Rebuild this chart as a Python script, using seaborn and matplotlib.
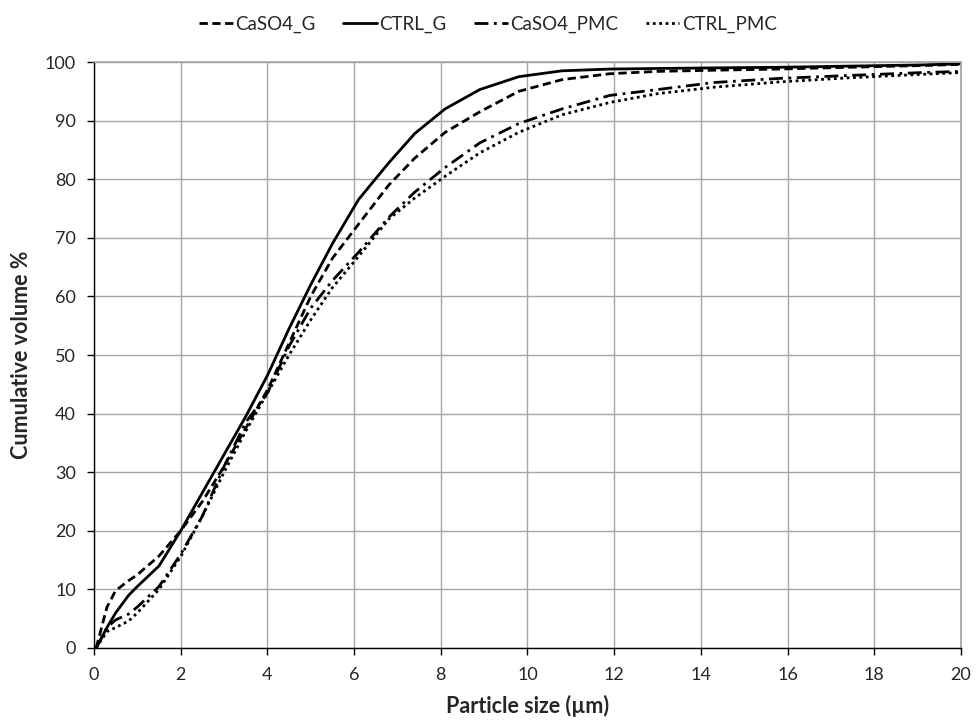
import numpy as np
import pandas as pd
import matplotlib
matplotlib.use("Agg")
import matplotlib.pyplot as plt
import seaborn as sns

size = [0.05, 0.3, 0.5, 0.8, 1.0, 1.5, 2.0, 2.5, 3.0, 3.5, 4.0, 4.5, 5.0, 5.5,
        6.1, 6.8, 7.4, 8.1, 8.9, 9.8, 10.8, 11.9, 13.0, 14.3, 15.8, 17.4, 19.1, 20.0]

caso4_g = [0.0, 7.0, 9.8, 11.5, 12.5, 15.7, 20.0, 25.0, 31.0, 37.5, 44.0, 52.0, 60.0, 66.5,
           72.3, 79.0, 83.6, 88.0, 91.5, 95.0, 97.0, 98.0, 98.4, 98.6, 98.8, 99.1, 99.4, 99.6]
ctrl_g = [0.0, 3.5, 6.0, 9.0, 10.5, 14.0, 20.0, 26.5, 33.0, 39.5, 46.5, 54.5, 62.0, 69.0,
          76.5, 82.8, 87.8, 92.0, 95.3, 97.5, 98.5, 98.8, 98.9, 99.0, 99.1, 99.3, 99.5, 99.7]
caso4_pmc = [0.0, 3.5, 4.8, 5.8, 7.0, 10.5, 16.0, 22.5, 31.0, 38.5, 43.5, 51.5, 58.0, 62.7,
             67.5, 73.5, 77.8, 82.0, 86.2, 89.5, 92.0, 94.3, 95.3, 96.5, 97.2, 97.7, 98.2, 98.4]
ctrl_pmc = [0.0, 2.8, 3.5, 4.6, 6.0, 10.0, 15.6, 22.5, 30.0, 37.0, 43.5, 50.0, 56.0, 61.5,
            66.8, 73.2, 76.8, 80.5, 84.5, 88.0, 91.0, 93.1, 94.6, 95.7, 96.6, 97.3, 97.9, 98.2]

series = ["CaSO4_G", "CTRL_G", "CaSO4_PMC", "CTRL_PMC"]
values = [caso4_g, ctrl_g, caso4_pmc, ctrl_pmc]

df = pd.concat([pd.DataFrame({"size": size, "vol": v, "series": s})
                for s, v in zip(series, values)], ignore_index=True)

sns.set_theme(style="white")
plt.rcParams['font.family'] = ['Lato', 'DejaVu Sans']

fig = plt.figure(figsize=(9.76, 7.22), dpi=100)
ax = fig.add_axes([0.0963, 0.1025, 0.8883, 0.8116])

dashes = {"CaSO4_G": (3, 1.6), "CTRL_G": "", "CaSO4_PMC": (5, 2, 1, 2), "CTRL_PMC": (1, 1.3)}
sns.lineplot(data=df, x="size", y="vol", hue="series", style="series",
             hue_order=series, style_order=series, dashes=dashes,
             palette=["black"] * 4, linewidth=2.0, ax=ax, legend=True)

ax.set_xlim(0, 20)
ax.set_ylim(0, 100)
ax.set_xticks(np.arange(0, 21, 2))
ax.set_yticks(np.arange(0, 101, 10))
ax.grid(True, color="#a6a6a6", linewidth=1.0)
ax.set_axisbelow(True)
for side in ["top", "right"]:
    ax.spines[side].set_color("#a6a6a6")
for side in ["left", "bottom"]:
    ax.spines[side].set_color("black")
    ax.spines[side].set_linewidth(1.0)
ax.tick_params(axis="both", which="major", direction="out", length=5, width=1,
               colors="black", labelsize=13, bottom=True, left=True)
ax.tick_params(axis="x", pad=9)
ax.tick_params(axis="y", pad=8)
ax.tick_params(axis="both", labelcolor="#262626")
ax.set_xlabel("Particle size (µm)", fontsize=15.5, fontweight="bold", labelpad=8)
ax.set_ylabel("Cumulative volume %", fontsize=15.5, fontweight="bold", labelpad=9)

handles, labels = ax.get_legend_handles_labels()
ax.get_legend().remove()
fig.legend(handles, labels, loc="center", bbox_to_anchor=(0.5, 0.966), ncol=4,
           frameon=False, fontsize=13.5, handlelength=1.8, handletextpad=0.15,
           columnspacing=1.45)

fig.savefig("out.png", dpi=100)
